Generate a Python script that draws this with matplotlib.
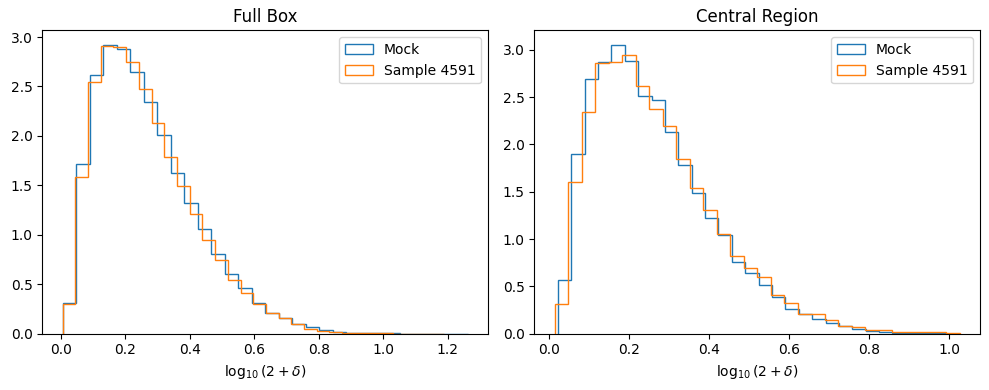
import numpy as np
import matplotlib
matplotlib.use("Agg")
import matplotlib.pyplot as plt


# bin ranges (min, max) of log10(2 + delta), 30 bins each
full_mock_range = (0.005, 1.262)
full_sample_range = (0.005, 1.188)
central_mock_range = (0.0225, 1.026)
central_sample_range = (0.0143, 1.027)

# normalised histogram heights
full_mock = [
    0.311, 1.713, 2.618, 2.922, 2.882, 2.645, 2.348, 2.007, 1.622, 1.318,
    1.054, 0.804, 0.601, 0.459, 0.310, 0.208, 0.155, 0.100, 0.068, 0.036,
    0.020, 0.009, 0.005, 0.003, 0.002, 0.0015, 0.001, 0.001, 0.0005, 0.0005,
]
full_sample = [
    0.297, 1.584, 2.544, 2.912, 2.899, 2.747, 2.473, 2.128, 1.784, 1.493,
    1.206, 0.946, 0.743, 0.547, 0.416, 0.304, 0.213, 0.155, 0.097, 0.052,
    0.030, 0.015, 0.008, 0.004, 0.003, 0.002, 0.001, 0.001, 0.0005, 0.0005,
]
central_mock = [
    0.572, 1.898, 2.693, 2.873, 3.053, 2.883, 2.516, 2.470, 2.131, 1.784,
    1.484, 1.219, 1.039, 0.753, 0.636, 0.519, 0.389, 0.265, 0.205, 0.159,
    0.117, 0.085, 0.053, 0.032, 0.018, 0.011, 0.007, 0.004, 0.002, 0.0,
]
central_sample = [
    0.318, 1.601, 2.343, 2.862, 2.873, 2.947, 2.615, 2.375, 2.191, 1.845,
    1.537, 1.307, 1.053, 0.823, 0.696, 0.594, 0.406, 0.329, 0.205, 0.212,
    0.141, 0.081, 0.070, 0.042, 0.042, 0.018, 0.018, 0.014, 0.014, 0.010,
]

panels = [
    ("Full Box", full_mock_range, full_mock, full_sample_range, full_sample),
    ("Central Region", central_mock_range, central_mock,
     central_sample_range, central_sample),
]

fig, axes = plt.subplots(1, 2, figsize=(9.89, 3.9), dpi=100)

for ax, (title, m_rng, m_vals, s_rng, s_vals) in zip(axes, panels):
    m_edges = np.linspace(m_rng[0], m_rng[1], len(m_vals) + 1)
    s_edges = np.linspace(s_rng[0], s_rng[1], len(s_vals) + 1)
    ax.hist(m_edges[:-1], bins=m_edges, weights=m_vals,
            histtype="step", label="Mock")
    ax.hist(s_edges[:-1], bins=s_edges, weights=s_vals,
            histtype="step", label="Sample 4591")
    ax.set_title(title)
    ax.set_xlabel(r"$\log_{10}(2+\delta)$")
    ax.legend()

fig.subplots_adjust(left=0.0428, right=0.9909, bottom=0.1444, top=0.9223,
                    wspace=0.104)
plt.savefig("out.png")
